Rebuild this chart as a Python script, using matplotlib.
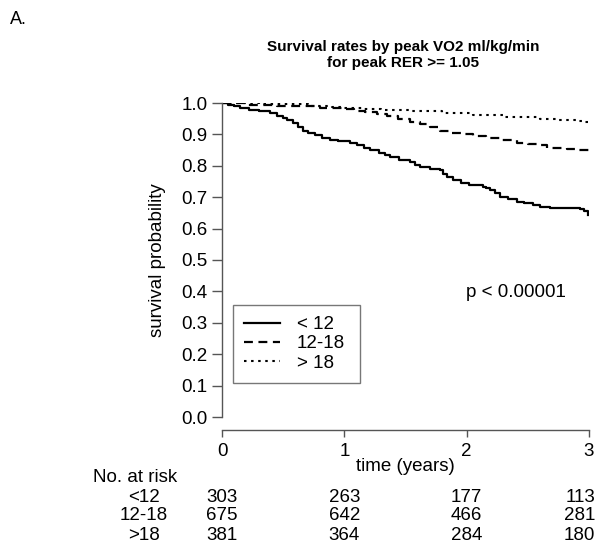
import matplotlib
matplotlib.use("Agg")
from matplotlib import pyplot as plt
import matplotlib.transforms as mtrans

plt.rcParams['font.family'] = ['Liberation Sans', 'DejaVu Sans']

# Kaplan-Meier step points (time in years, survival)
t_lt12 = [0, 0.05, 0.10, 0.15, 0.22, 0.30, 0.39, 0.45, 0.50, 0.53, 0.58, 0.62, 0.66, 0.70,
          0.76, 0.82, 0.88, 0.95, 1.05, 1.10, 1.16, 1.21, 1.28, 1.33, 1.37, 1.45, 1.54, 1.58,
          1.62, 1.70, 1.78, 1.81, 1.84, 1.89, 1.95, 2.02, 2.13, 2.16, 2.19, 2.23, 2.27, 2.34,
          2.41, 2.47, 2.54, 2.60, 2.68, 2.93, 2.96, 2.99]
s_lt12 = [1.0, 0.995, 0.990, 0.983, 0.978, 0.973, 0.968, 0.960, 0.953, 0.946, 0.935, 0.922, 0.912, 0.904,
          0.898, 0.890, 0.882, 0.878, 0.873, 0.866, 0.858, 0.850, 0.842, 0.835, 0.828, 0.820, 0.812, 0.804,
          0.796, 0.790, 0.787, 0.775, 0.765, 0.755, 0.745, 0.738, 0.733, 0.728, 0.723, 0.712, 0.701, 0.693,
          0.685, 0.680, 0.675, 0.670, 0.665, 0.662, 0.655, 0.643]

t_12_18 = [0, 0.20, 0.45, 0.80, 0.99, 1.08, 1.17, 1.27, 1.35, 1.44, 1.54, 1.62, 1.70, 1.78,
           1.86, 1.95, 2.05, 2.16, 2.27, 2.41, 2.50, 2.60, 2.66, 2.82, 2.90, 3.0]
s_12_18 = [1.0, 0.995, 0.990, 0.985, 0.980, 0.975, 0.970, 0.965, 0.958, 0.949, 0.940, 0.932, 0.922, 0.912,
           0.905, 0.900, 0.896, 0.889, 0.883, 0.873, 0.870, 0.865, 0.858, 0.855, 0.850, 0.848]

t_gt18 = [0, 0.30, 0.70, 0.90, 1.0, 1.15, 1.30, 1.55, 1.80, 2.05, 2.30, 2.45, 2.60, 2.75,
          2.90, 2.97, 3.0]
s_gt18 = [1.0, 0.996, 0.990, 0.986, 0.983, 0.980, 0.978, 0.973, 0.967, 0.962, 0.957, 0.954, 0.950, 0.947,
          0.943, 0.938, 0.936]

groups = ["< 12", "12-18", "> 18"]
risk_groups = ["<12", "12-18", ">18"]
risk_times = [0, 1, 2, 3]
risk_lt12 = [303, 263, 177, 113]
risk_12_18 = [675, 642, 466, 281]
risk_gt18 = [381, 364, 284, 180]

fs = 13.5

fig = plt.figure(figsize=(6.04, 5.54), dpi=100)
ax = fig.add_axes([222 / 604, 1 - 417 / 554, 367 / 604, 314 / 554])

ax.step(t_lt12, s_lt12, where='post', color='black', lw=1.6, linestyle='-', label=groups[0])
ax.step(t_12_18, s_12_18, where='post', color='black', lw=1.6, linestyle=(0, (4, 2.5)), label=groups[1])
ax.step(t_gt18, s_gt18, where='post', color='black', lw=1.5, linestyle=(0, (1.2, 2.2)), label=groups[2])

ax.set_xlim(0, 3)
ax.set_ylim(0, 1)
ax.set_xticks([0, 1, 2, 3])
ax.set_yticks([i / 10 for i in range(11)])
ax.set_yticklabels([f"{i / 10:.1f}" for i in range(11)])

for s in ['top', 'right']:
    ax.spines[s].set_visible(False)
ax.spines['bottom'].set_position(('outward', 9.4))
ax.spines['bottom'].set_bounds(0, 3)
ax.spines['left'].set_bounds(0, 1)
for s in ['bottom', 'left']:
    ax.spines[s].set_color('#555555')
    ax.spines[s].set_linewidth(1.0)
ax.tick_params(axis='y', length=7, width=1.0, color='#555555', labelsize=fs, pad=3.5)
ax.tick_params(axis='x', length=5, width=1.0, color='#555555', labelsize=fs, pad=4)

ax.set_xlabel("time (years)", fontsize=fs, labelpad=-1)
ax.set_ylabel("survival probability", fontsize=fs, labelpad=11)

leg = ax.legend(loc='lower left', bbox_to_anchor=(0.03, 0.108, 0.346, 0.29), mode='expand',
                borderaxespad=0, fontsize=fs, frameon=True, fancybox=False, edgecolor='#555555',
                handlelength=1.9, handletextpad=0.9, labelspacing=0.12, borderpad=0.6)
leg.get_frame().set_linewidth(1.0)

ax.text(2.4, 0.398, "p < 0.00001", fontsize=fs, ha='center', va='center')

fig.text(403 / 604, 1 - 47 / 554, "Survival rates by peak VO2 ml/kg/min", fontsize=11,
         fontweight='bold', ha='center', va='center')
fig.text(403 / 604, 1 - 63 / 554, "for peak RER >= 1.05", fontsize=11,
         fontweight='bold', ha='center', va='center')
fig.text(10 / 604, 1 - 20 / 554, "A.", fontsize=13, ha='left', va='center')

# number at risk table
tr = mtrans.blended_transform_factory(ax.transData, fig.transFigure)
row_y = [1 - 497 / 554, 1 - 516 / 554, 1 - 535 / 554]
fig.text(93 / 604, 1 - 477 / 554, "No. at risk", fontsize=fs, ha='left', va='center')
for name, y, counts in zip(risk_groups, row_y, [risk_lt12, risk_12_18, risk_gt18]):
    fig.text(144 / 604, y, name, fontsize=fs, ha='center', va='center')
    for t, n in zip(risk_times, counts):
        if t == risk_times[-1]:
            ax.text(t + 0.05, y, str(n), fontsize=fs, ha='right', va='center', transform=tr)
        else:
            ax.text(t, y, str(n), fontsize=fs, ha='center', va='center', transform=tr)

plt.savefig("out.png", dpi=100)
